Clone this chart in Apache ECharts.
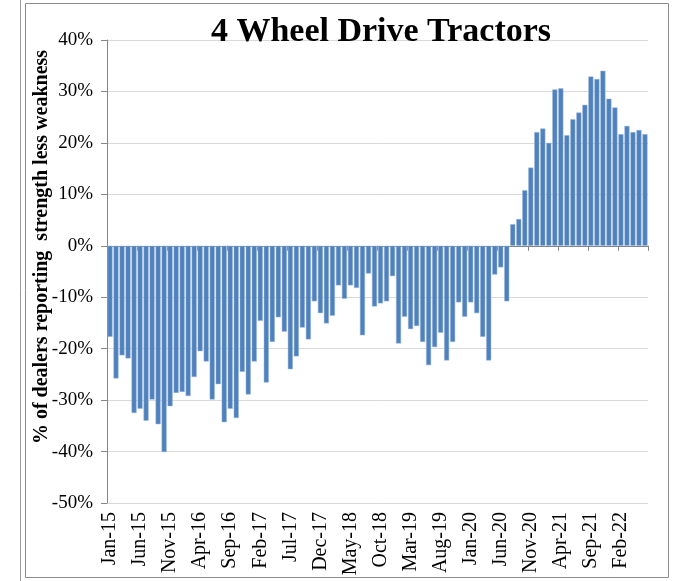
<!DOCTYPE html>
<html>
<head>
<meta charset="utf-8">
<script src="https://cdn.jsdelivr.net/npm/echarts@6/dist/echarts.min.js"></script>
<style>
html,body{margin:0;padding:0;background:#fff;}
#c{width:674px;height:581px;}
</style>
</head>
<body>
<div id="c"></div>
<script>
// Month abbreviations and years used to build the category labels Jan-15 .. Jun-22
const monthNames = ['Jan','Feb','Mar','Apr','May','Jun','Jul','Aug','Sep','Oct','Nov','Dec'];
const years = ['15','16','17','18','19','20','21','22'];
const lastMonthCount = 6; // 2022 runs Jan..Jun
const categories = [];
years.forEach((y, yi) => {
  const n = yi === years.length - 1 ? lastMonthCount : 12;
  for (let m = 0; m < n; m++) categories.push(monthNames[m] + '-' + y);
});

// % of dealers reporting strength less weakness
const values = [
  -17.7, -25.8, -21.3, -21.9, -32.5, -31.7, -34.0, -29.9, -34.7, -40.1,
  -31.2, -28.6, -28.4, -29.2, -25.5, -20.5, -22.5, -29.9, -26.9, -34.3,
  -31.7, -33.5, -24.5, -28.9, -22.5, -14.6, -26.6, -18.7, -13.9, -16.7,
  -24.0, -21.5, -15.9, -18.2, -10.8, -13.1, -15.1, -13.6, -7.7, -10.3,
  -7.7, -8.2, -17.4, -5.4, -11.8, -11.2, -10.8, -5.9, -19.0, -13.8,
  -16.2, -15.6, -18.7, -23.2, -19.7, -16.9, -22.3, -18.7, -11.0, -13.8,
  -11.0, -13.1, -17.7, -22.3, -5.6, -4.2, -10.8, 4.2, 5.2, 10.8,
  15.2, 22.1, 22.8, 20.0, 30.4, 30.6, 21.5, 24.6, 25.9, 27.4,
  32.9, 32.4, 34.0, 28.6, 26.9, 21.7, 23.3, 22.1, 22.5, 21.7
];

const yTicks = [-50, -40, -30, -20, -10, 0, 10, 20, 30, 40];
const titleText = '4 Wheel Drive Tractors';
const yTitle = '% of dealers reporting  strength less weakness';

const serif = '"Liberation Serif", "Times New Roman", serif';
const chart = echarts.init(document.getElementById('c'), null, {renderer: 'canvas'});
chart.setOption({
  animation: false,
  backgroundColor: '#ffffff',
  title: {
    text: titleText,
    left: 376, top: 10, textAlign: 'center',
    textStyle: {fontFamily: serif, fontWeight: 'bold', fontSize: 34, color: '#000'}
  },
  graphic: [
    {type: 'line', shape: {x1: 20.5, y1: 0, x2: 20.5, y2: 581}, style: {stroke: '#9a9a9a', lineWidth: 1}},
    {type: 'rect', shape: {x: 25.5, y: 3.5, width: 643, height: 574}, style: {fill: 'none', stroke: '#8c8c8c', lineWidth: 1}},
    {type: 'text', rotation: Math.PI / 2, x: 42, y: 247,
      style: {text: yTitle, fontFamily: serif, fontWeight: 'bold', fontSize: 20, fill: '#000', align: 'center', verticalAlign: 'middle'}}
  ],
  grid: {left: 107, right: 26, top: 40, bottom: 78, containLabel: false},
  xAxis: [
    {
      type: 'category', data: categories, position: 'bottom',
      axisLine: {show: false, onZero: false},
      axisTick: {show: false},
      axisLabel: {interval: 4, rotate: 90, margin: 9, fontFamily: serif, fontSize: 20, color: '#000'},
      splitLine: {show: false}
    },
    {
      type: 'category', data: categories, position: 'bottom',
      axisLine: {show: true, onZero: true, lineStyle: {color: '#868686', width: 1}},
      axisTick: {show: true, interval: 4, length: 5, inside: false, lineStyle: {color: '#868686'}},
      axisLabel: {show: false},
      splitLine: {show: false}
    }
  ],
  yAxis: {
    type: 'value', min: yTicks[0], max: yTicks[yTicks.length - 1], interval: 10,
    axisLine: {show: true, lineStyle: {color: '#868686'}},
    axisTick: {show: true, length: 6, lineStyle: {color: '#868686'}},
    axisLabel: {formatter: '{value}%', margin: 14, fontFamily: serif, fontSize: 19, color: '#000'},
    splitLine: {show: true, lineStyle: {color: '#d9d9d9', width: 1}}
  },
  series: [{
    type: 'bar', data: values, xAxisIndex: 0,
    barCategoryGap: '16%',
    itemStyle: {color: '#4F81BD', borderColor: '#9db8dc', borderWidth: 0.5}
  }]
});
</script>
</body>
</html>
